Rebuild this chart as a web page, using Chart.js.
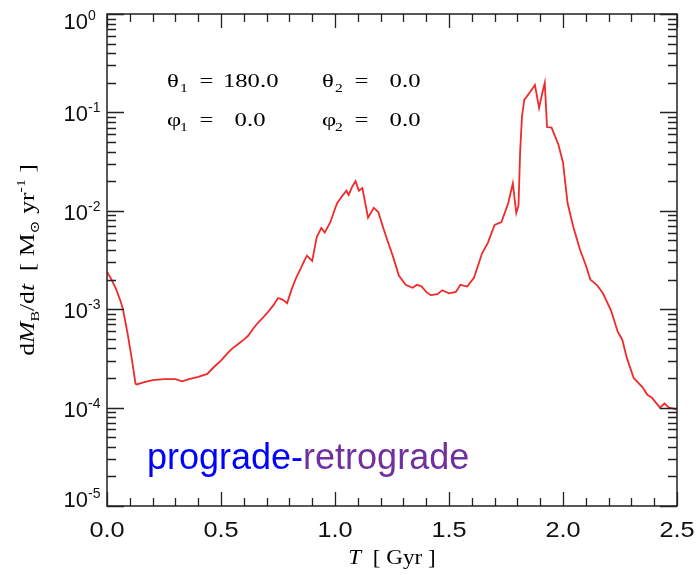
<!DOCTYPE html>
<html lang="en">
<head>
  <meta charset="UTF-8">
  <title>Mass transfer rate</title>
  <script src="https://cdn.jsdelivr.net/npm/chart.js"></script>
  <style>
    body {
      margin: 0;
      background: #ffffff;
    }
    #wrap {
      width: 698px;
      height: 575px;
    }
  </style>
</head>
<body>
  <div id="wrap">
    <canvas id="rateChart" width="698" height="575"></canvas>
  </div>

  <script>
    // time [Gyr] and dM_B/dt [Msun/yr]
    const timeGyr = [
      0.00, 0.02, 0.04, 0.06, 0.07, 0.09, 0.11, 0.125, 0.13, 0.16,
      0.20, 0.25, 0.30, 0.33, 0.36, 0.40, 0.44, 0.47, 0.50, 0.53,
      0.55, 0.58, 0.60, 0.62, 0.64, 0.66, 0.68, 0.70, 0.73, 0.75,
      0.77, 0.79, 0.81, 0.83, 0.85, 0.865, 0.877, 0.90, 0.92, 0.94,
      0.955, 0.98, 1.00, 1.01, 1.03, 1.05, 1.06, 1.075, 1.09, 1.105,
      1.12, 1.145, 1.17, 1.19, 1.21, 1.23, 1.255, 1.28, 1.31, 1.34,
      1.36, 1.38, 1.40, 1.42, 1.45, 1.47, 1.50, 1.53, 1.55, 1.58,
      1.61, 1.63, 1.645, 1.67, 1.70, 1.73, 1.76, 1.78, 1.795, 1.805,
      1.812, 1.82, 1.83, 1.855, 1.877, 1.895, 1.91, 1.92, 1.93, 1.95,
      1.98, 2.00, 2.02, 2.045, 2.075, 2.10, 2.12, 2.15, 2.175, 2.21,
      2.24, 2.26, 2.28, 2.31, 2.35, 2.37, 2.39, 2.425, 2.445, 2.465,
      2.50
    ];
    const massRate = [
      2.4e-3, 2.0e-3, 1.6e-3, 1.2e-3, 1.0e-3, 5.7e-4, 3.0e-4, 1.75e-4, 1.72e-4, 1.8e-4,
      1.9e-4, 1.95e-4, 1.95e-4, 1.85e-4, 1.95e-4, 2.05e-4, 2.2e-4, 2.6e-4, 3.0e-4, 3.6e-4,
      4.0e-4, 4.5e-4, 4.9e-4, 5.4e-4, 6.3e-4, 7.2e-4, 8.0e-4, 9.0e-4, 1.1e-3, 1.3e-3,
      1.25e-3, 1.15e-3, 1.6e-3, 2.1e-3, 2.6e-3, 3.1e-3, 3.5e-3, 3.1e-3, 5.4e-3, 6.7e-3,
      6.0e-3, 7.7e-3, 1.05e-2, 1.2e-2, 1.4e-2, 1.6e-2, 1.45e-2, 1.75e-2, 2.0e-2, 1.6e-2,
      1.7e-2, 8.5e-3, 1.07e-2, 9.7e-3, 6.9e-3, 5.0e-3, 3.4e-3, 2.2e-3, 1.77e-3, 1.65e-3,
      1.77e-3, 1.7e-3, 1.5e-3, 1.39e-3, 1.42e-3, 1.56e-3, 1.45e-3, 1.5e-3, 1.77e-3, 1.7e-3,
      2.1e-3, 2.9e-3, 3.7e-3, 4.7e-3, 7.2e-3, 7.7e-3, 1.2e-2, 1.9e-2, 9.5e-3, 1.14e-2,
      4.0e-2, 9.0e-2, 1.34e-1, 1.6e-1, 1.9e-1, 1.11e-1, 1.6e-1, 2.0e-1, 7.1e-2, 7.0e-2,
      4.7e-2, 3.1e-2, 1.2e-2, 6.9e-3, 4.0e-3, 2.8e-3, 2.0e-3, 1.75e-3, 1.45e-3, 9.8e-4,
      5.9e-4, 4.9e-4, 3.2e-4, 2.0e-4, 1.6e-4, 1.35e-4, 1.26e-4, 1.0e-4, 1.1e-4, 1.0e-4,
      9.6e-5
    ];
    const xTicks = [0.0, 0.5, 1.0, 1.5, 2.0, 2.5];
    const xTickLabels = ['0.0', '0.5', '1.0', '1.5', '2.0', '2.5'];
    const yTickExponents = [0, -1, -2, -3, -4, -5];

    const SERIF = '"Liberation Serif", "DejaVu Serif", serif';
    const SANS = '"Liberation Sans", Arial, sans-serif';

    // draws a row of text pieces, each {t, size, italic, dy, color}
    function drawPieces(ctx, pieces, x, y, family) {
      let cx = x;
      pieces.forEach(p => {
        ctx.font = (p.italic ? 'italic ' : '') + p.size + 'px ' + family;
        ctx.fillStyle = p.color || '#000';
        ctx.fillText(p.t, cx, y + (p.dy || 0));
        cx += ctx.measureText(p.t).width;
      });
      return cx - x;
    }
    function piecesWidth(ctx, pieces, family) {
      let w = 0;
      pieces.forEach(p => {
        ctx.font = (p.italic ? 'italic ' : '') + p.size + 'px ' + family;
        w += ctx.measureText(p.t).width;
      });
      return w;
    }

    const axesPlugin = {
      id: 'idlAxes',
      beforeDraw(chart) {
        const ctx = chart.ctx;
        ctx.save();
        ctx.fillStyle = '#fff';
        ctx.fillRect(0, 0, chart.width, chart.height);
        ctx.restore();
      },
      afterDraw(chart) {
        const ctx = chart.ctx;
        const a = chart.chartArea;
        const xs = chart.scales.x;
        const ys = chart.scales.y;
        ctx.save();
        ctx.strokeStyle = '#222';
        ctx.lineWidth = 1.5;
        ctx.strokeRect(a.left, a.top, a.right - a.left, a.bottom - a.top);

        // x ticks, inward on bottom and top
        ctx.lineWidth = 1.3;
        for (let i = 0; i <= 25; i++) {
          const v = i / 10;
          const px = Math.round(xs.getPixelForValue(v)) + 0.5;
          const len = (i % 5 === 0) ? 14 : 8;
          ctx.beginPath();
          ctx.moveTo(px, a.bottom); ctx.lineTo(px, a.bottom - len);
          ctx.moveTo(px, a.top); ctx.lineTo(px, a.top + len);
          ctx.stroke();
        }
        // y ticks (log), inward on left and right
        yTickExponents.forEach(e => {
          for (let m = 1; m <= 9; m++) {
            const v = m * Math.pow(10, e);
            if (v > 1.0000001) continue;
            const py = Math.round(ys.getPixelForValue(v)) + 0.5;
            const len = m === 1 ? 17 : 9;
            ctx.beginPath();
            ctx.moveTo(a.left, py); ctx.lineTo(a.left + len, py);
            ctx.moveTo(a.right, py); ctx.lineTo(a.right - len, py);
            ctx.stroke();
          }
        });

        // x tick labels
        ctx.fillStyle = '#111';
        ctx.textBaseline = 'alphabetic';
        ctx.textAlign = 'center';
        xTicks.forEach((v, i) => {
          const px = xs.getPixelForValue(v);
          ctx.save();
          ctx.translate(px, a.bottom + 31);
          ctx.scale(1.15, 1);
          ctx.font = '22px ' + SANS;
          ctx.fillText(xTickLabels[i], 0, 0);
          ctx.restore();
        });

        // y tick labels as 10^n
        ctx.textAlign = 'left';
        yTickExponents.forEach(e => {
          const py = ys.getPixelForValue(Math.pow(10, e));
          let base = py + 9;
          base = Math.min(Math.max(base, a.top + 15), a.bottom + 1);
          ctx.font = '22px ' + SANS;
          const w = ctx.measureText('10').width;
          ctx.fillText('10', a.left - 19 - w, base);
          ctx.font = '14px ' + SANS;
          ctx.fillText(String(e), a.left - 19, base - 9);
        });

        // x axis title
        const xt = [
          { t: 'T', size: 21, italic: true },
          { t: '  [ Gyr ]', size: 21 }
        ];
        ctx.save();
        const xtw = piecesWidth(ctx, xt, SERIF) * 1.1;
        ctx.translate((a.left + a.right) / 2 - xtw / 2, a.bottom + 58);
        ctx.scale(1.1, 1);
        drawPieces(ctx, xt, 0, 0, SERIF);
        ctx.restore();

        // y axis title, rotated
        const yt = [
          { t: 'd', size: 21 },
          { t: 'M', size: 21, italic: true },
          { t: 'B', size: 13, dy: 5 },
          { t: '/d', size: 21 },
          { t: 't', size: 21, italic: true },
          { t: '  [ M', size: 21 },
          { t: '\u2299', size: 13, dy: 5 },
          { t: ' yr', size: 21 },
          { t: '-1', size: 13, dy: -9 },
          { t: ' ]', size: 21 }
        ];
        ctx.save();
        const ytw = piecesWidth(ctx, yt, SERIF) * 1.22;
        ctx.translate(34, 260);
        ctx.rotate(-Math.PI / 2);
        ctx.scale(1.22, 1);
        drawPieces(ctx, yt, -ytw / 2 / 1.22, 0, SERIF);
        ctx.restore();

        // orbital angles
        const rows = [
          { sym: '\u03B8', y: 73, a: '180.0', b: '0.0' },
          { sym: '\u03C6', y: 112, a: '0.0', b: '0.0' }
        ];
        rows.forEach(r => {
          [[1, 60, r.a], [2, 215, r.b]].forEach(([idx, dx, val]) => {
            ctx.save();
            ctx.translate(a.left + dx, a.top + r.y);
            ctx.scale(1.3, 1);
            ctx.font = '19px ' + SERIF;
            ctx.fillStyle = '#000';
            ctx.fillText(r.sym, 0, 0);
            ctx.font = '12px ' + SERIF;
            ctx.fillText(String(idx), 10, 5);
            ctx.font = '19px ' + SERIF;
            ctx.fillText('=', 25, 0);
            const valX = (val.length > 3) ? 43 : 52;
            ctx.fillText(val, valX, 0);
            ctx.restore();
          });
        });

        // case label
        ctx.font = '36px ' + SANS;
        ctx.fillStyle = '#0000ff';
        const p1 = 'prograde-';
        ctx.fillText(p1, a.left + 40, a.bottom - 37);
        const w1 = ctx.measureText(p1).width;
        ctx.fillStyle = '#7030a0';
        ctx.fillText('retrograde', a.left + 40 + w1, a.bottom - 37);

        ctx.restore();
      }
    };

    const ctx = document.getElementById('rateChart').getContext('2d');
    new Chart(ctx, {
      type: 'line',
      data: {
        datasets: [{
          label: 'dM/dt',
          data: timeGyr.map((t, i) => ({ x: t, y: massRate[i] })),
          borderColor: '#f02a2a',
          borderWidth: 1.8,
          pointRadius: 0,
          tension: 0,
          fill: false
        }]
      },
      options: {
        responsive: false,
        animation: false,
        layout: { padding: { left: 107, right: 21, top: 14, bottom: 69 } },
        plugins: {
          legend: { display: false },
          tooltip: { enabled: false }
        },
        scales: {
          x: { type: 'linear', min: 0, max: 2.5, display: false },
          y: { type: 'logarithmic', min: 1e-5, max: 1, display: false }
        }
      },
      plugins: [axesPlugin]
    });
  </script>
</body>
</html>
